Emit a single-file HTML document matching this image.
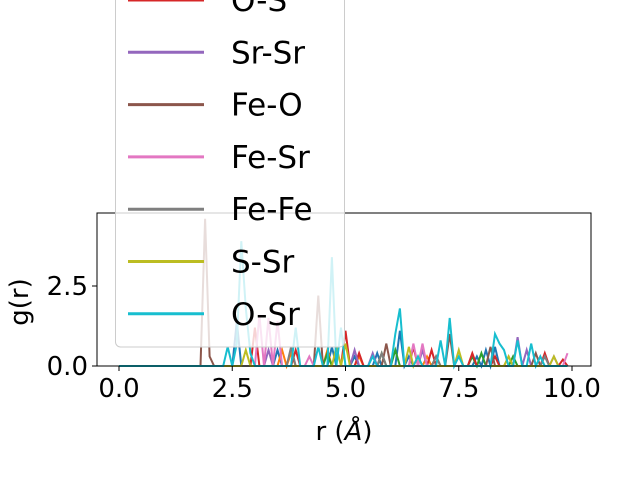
<!DOCTYPE html>
<html><head><meta charset="utf-8"><style>
body{margin:0;background:#fff}
svg text{font-family:"DejaVu Sans","Liberation Sans",sans-serif;fill:#000}
</style></head><body>
<svg width="640" height="480" viewBox="0 0 640 480">
<g id="series"></g>
<rect x="97" y="213" width="494" height="153" fill="none" stroke="#000" stroke-width="1"/>
<g id="axes"></g>
<text x="16" y="290" font-size="26" text-anchor="middle" transform="rotate(-90 28 290)">g(r)</text>
<text x="344" y="440" font-size="26" text-anchor="middle">r (<tspan font-style="italic">Å</tspan>)</text>
<g id="legend"></g>
</svg>
<script>
const xTicks=[0,2.5,5,7.5,10];
const xTickLabels=["0.0","2.5","5.0","7.5","10.0"];
const yTicks=[0,2.5];
const yTickLabels=["0.0","2.5"];
const seriesNames=["S-S","Fe-S","O-O","O-S","Sr-Sr","Fe-O","Fe-Sr","Fe-Fe","S-Sr","O-Sr"];
const colors=["#1f77b4","#ff7f0e","#2ca02c","#d62728","#9467bd","#8c564b","#e377c2","#7f7f7f","#bcbd22","#17becf"];
// peaks as [r, g] pairs on 0.1 grid; other grid points are 0
const sS=[[2.6,1.4],[3.5,0.5],[4.7,0.6],[5.2,0.3],[5.7,0.4],[6.2,1.1],[6.4,0.3],[7.9,0.3],[8.1,0.5],[8.3,0.6]];
const feS=[[3.6,0.5],[3.8,0.4],[4.6,0.5],[5.3,0.3],[6.8,0.3],[8.6,0.3]];
const oO=[[4.6,0.4],[5.8,0.4],[6.1,0.5],[7.0,0.3],[7.8,0.3],[8.0,0.4],[8.7,0.3]];
const oS=[[3.0,1.2],[3.9,0.5],[5.0,1.1],[5.3,0.4],[6.5,0.6],[6.9,0.5],[7.8,0.4],[8.3,0.3],[9.4,0.4],[9.8,0.2]];
const srSr=[[3.3,0.5],[5.2,0.5],[5.6,0.4],[6.7,0.5],[8.8,0.9],[9.0,0.5],[9.6,0.3]];
const feO=[[1.9,4.6],[2.0,0.3],[4.4,2.2],[5.9,0.7],[7.3,1.0],[8.2,0.6],[9.2,0.4]];
const feSr=[[3.1,1.6],[3.3,1.5],[3.5,1.4],[4.2,0.3],[6.5,0.7],[6.7,0.7],[9.9,0.4]];
const feFe=[[3.8,0.6],[5.8,0.4],[7.0,0.3],[9.4,0.3]];
const sSr=[[2.8,0.5],[4.8,0.6],[5.0,0.7],[6.4,0.6],[6.6,0.3],[7.5,0.5],[8.6,0.3],[9.6,0.3]];
const oSr=[[2.4,0.6],[2.6,0.7],[2.7,3.9],[2.8,1.8],[2.9,0.4],[3.9,1.2],[4.4,0.6],[4.7,3.4],[4.9,1.2],[5.6,0.3],[6.1,1.0],[6.2,1.8],[6.6,0.3],[7.1,0.8],[7.3,1.5],[7.5,0.3],[8.3,1.0],[8.4,0.7],[8.5,0.5],[8.8,0.8],[9.1,0.7],[9.3,0.3]];
const seriesData=[sS,feS,oO,oS,srSr,feO,feSr,feFe,sSr,oSr];
const legendShown=[3,4,5,6,7,8,9];
const NS="http://www.w3.org/2000/svg";
const X=r=>119+45.3*r, Y=g=>366-32*g;
const sg=document.getElementById('series');
seriesData.forEach((pk,i)=>{
  const m={};pk.forEach(p=>m[Math.round(p[0]*10)]=p[1]);
  let pts=[];for(let k=0;k<100;k++){pts.push(X(k/10).toFixed(1)+","+Y(m[k]||0).toFixed(1));}
  const pl=document.createElementNS(NS,'polyline');
  
  
  pl.setAttribute('points',pts.join(' '));pl.setAttribute('fill','none');
  pl.setAttribute('stroke',colors[i]);pl.setAttribute('stroke-width','2');
  sg.appendChild(pl);
});
const ax=document.getElementById('axes');
xTicks.forEach((v,i)=>{
  const l=document.createElementNS(NS,'line');
  
  
  l.setAttribute('x1',X(v));l.setAttribute('x2',X(v));l.setAttribute('y1',366);l.setAttribute('y2',371);l.setAttribute('stroke','#000');ax.appendChild(l);
  const t=document.createElementNS(NS,'text');
  
  
  t.setAttribute('x',X(v));t.setAttribute('y',397);t.setAttribute('font-size','26');t.setAttribute('text-anchor','middle');t.textContent=xTickLabels[i];ax.appendChild(t);
});
yTicks.forEach((v,i)=>{
  const l=document.createElementNS(NS,'line');
  
  
  l.setAttribute('x1',92);l.setAttribute('x2',97);l.setAttribute('y1',Y(v));l.setAttribute('y2',Y(v));l.setAttribute('stroke','#000');ax.appendChild(l);
  const t=document.createElementNS(NS,'text');
  
  
  t.setAttribute('x',88);t.setAttribute('y',Y(v)+9);t.setAttribute('font-size','26');t.setAttribute('text-anchor','end');t.textContent=yTickLabels[i];ax.appendChild(t);
});
const lg=document.getElementById('legend');
const box=document.createElementNS(NS,'rect');


box.setAttribute('x',115.5);box.setAttribute('y',-200);box.setAttribute('width',229);box.setAttribute('height',547);box.setAttribute('rx',5);
box.setAttribute('fill','rgba(255,255,255,0.8)');box.setAttribute('stroke','#cccccc');lg.appendChild(box);
legendShown.forEach((si,j)=>{
  const y=0+52.3*j;
  const l=document.createElementNS(NS,'line');
  
  
  l.setAttribute('x1',128);l.setAttribute('x2',204);l.setAttribute('y1',y);l.setAttribute('y2',y);l.setAttribute('stroke',colors[si]);l.setAttribute('stroke-width','3');lg.appendChild(l);
  const t=document.createElementNS(NS,'text');
  
  
  t.setAttribute('x',231);t.setAttribute('y',y+11);t.setAttribute('font-size','31');t.textContent=seriesNames[si];lg.appendChild(t);
});
</script>
</body></html>
